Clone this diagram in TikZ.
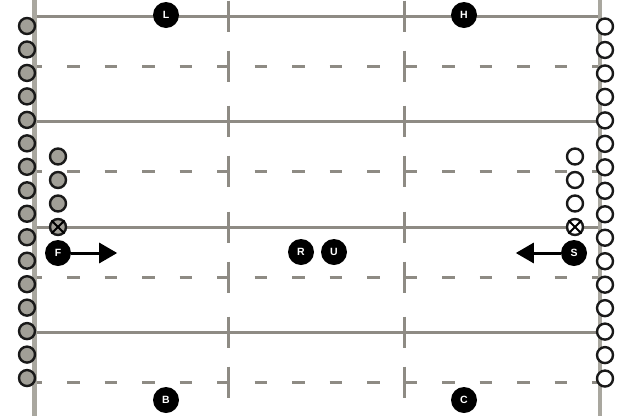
\documentclass[tikz,border=0pt]{standalone}
\usepackage{fontspec}
\setmainfont{Liberation Sans}
\usetikzlibrary{positioning,arrows.meta}
\definecolor{fieldgray}{HTML}{8E8B84}
\definecolor{sidegray}{HTML}{A9A79F}
\definecolor{conegray}{HTML}{A19F97}

\begin{document}
\begin{tikzpicture}[x=1pt, y=-1pt,
    cone/.style={circle, draw=black!90, line width=2.4pt, minimum size=16pt, inner sep=0pt},
    player/.style={circle, fill=black, minimum size=26pt, inner sep=0pt, text=white,
        font=\bfseries\fontsize{10.5}{11}\selectfont},
    run/.style={-{Triangle[length=18pt,width=20pt]}, line width=3pt}]
    \useasboundingbox (0,0) rectangle (638,416);

    % Draw the field lines
    \foreach \y in {16,121,227,332}
        \draw[fieldgray, line width=3pt] (34.5,\y) -- (600,\y);
    \foreach \y in {66,171,277,382}
        \draw[fieldgray, line width=3pt, dash pattern=on 12.5pt off 25pt, dash phase=5pt] (34.5,\y) -- (600,\y);
    \foreach \y in {16,66,121,171,227,277,332,382}
        \foreach \x in {228,404}
            \draw[fieldgray, line width=3pt] (\x,{\y-15.5}) -- (\x,{\y+15.5});

    % Draw the sidelines
    \draw[sidegray, line width=4.5pt] (34.5,0) -- (34.5,416);
    \draw[sidegray, line width=4.5pt] (600,0) -- (600,416);

    % Cones along the sidelines
    \foreach \i in {0,...,15} {
        \node[cone, fill=conegray] (left\i) at (27,{26+23.47*\i}) {};
        \node[cone, fill=white] (right\i) at (605,{26.5+23.47*\i}) {};
    }

    % Queue on the left
    \node[cone, fill=conegray] (fa) at (58,156.5) {};
    \node[cone, fill=conegray] (fb) at (58,180) {};
    \node[cone, fill=conegray] (fc) at (58,203.5) {};
    \node[cone, fill=conegray] (fx) at (58,227) {};
    \draw[line width=2pt] (fx.45) -- (fx.225) (fx.135) -- (fx.-45);

    % Queue on the right
    \node[cone, fill=white] (sa) at (575,156.5) {};
    \node[cone, fill=white] (sb) at (575,180) {};
    \node[cone, fill=white] (sc) at (575,203.5) {};
    \node[cone, fill=white] (sx) at (575,227) {};
    \draw[line width=2pt] (sx.45) -- (sx.225) (sx.135) -- (sx.-45);

    % Players
    \node[player] (L) at (166,15) {L};
    \node[player] (H) at (464,15) {H};
    \node[player] (F) at (58,253) {F};
    \node[player] (R) at (301,252) {R};
    \node[player] (U) at (334,252) {U};
    \node[player] (S) at (574,253) {S};
    \node[player] (B) at (166,400) {B};
    \node[player] (C) at (464,400) {C};

    % Draw the arrows
    \coordinate[right=46pt of F] (Ftip);
    \coordinate[left=45pt of S] (Stip);
    \draw[run] (F) -- (Ftip);
    \draw[run] (S) -- (Stip);
\end{tikzpicture}
\end{document}
